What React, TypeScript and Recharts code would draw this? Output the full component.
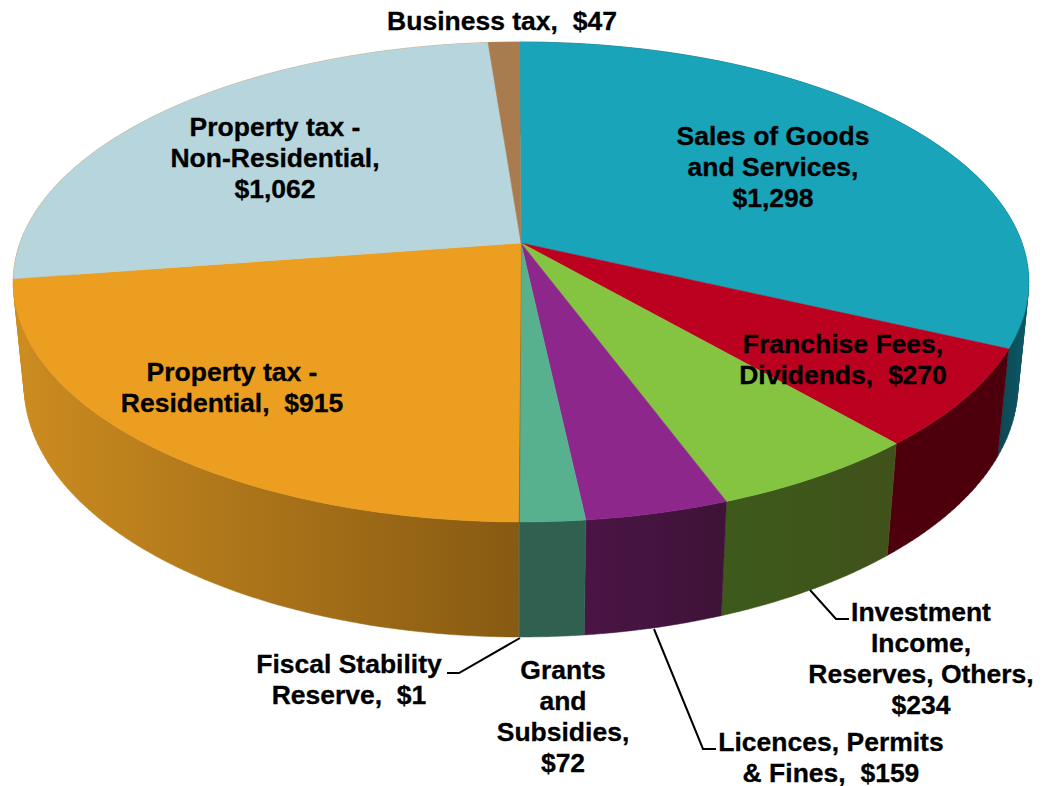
import { Pie, PieChart } from 'recharts'

const categories = [
  'Sales of Goods and Services',
  'Franchise Fees, Dividends',
  'Investment Income, Reserves, Others',
  'Licences, Permits & Fines',
  'Grants and Subsidies',
  'Fiscal Stability Reserve',
  'Property tax - Residential',
  'Property tax - Non-Residential',
  'Business tax',
]
const values = [1298, 270, 234, 159, 72, 1, 915, 1062, 47]

const topColors = ['#1aa4b9', '#bb0020', '#85c440', '#8d278c', '#58b18e', '#8a5a12', '#ec9e21', '#b6d5dc', '#a97c50']
const wallFrom = ['#0d4652', '#4d000c', '#3d5a1b', '#4a1545', '#2f6050', '#2f6050', '#cc8c20', '#cc8c20', '#cc8c20']
const wallTo = ['#0d5a68', '#4d000c', '#40521a', '#3f1238', '#2f6050', '#2f6050', '#875a12', '#cc8c20', '#cc8c20']
// x range of each wall's shading
const wallSpan = [[997, 1029], [887, 1007], [721, 893], [584, 723], [520, 585], [520, 522], [13, 521], [13, 521], [490, 521]]

const labelLines = [
  ['Sales of Goods', 'and Services,', '$1,298'],
  ['Franchise Fees,', 'Dividends,  $270'],
  ['Investment', 'Income,', 'Reserves, Others,', '$234'],
  ['Licences, Permits', '& Fines,  $159'],
  ['Grants', 'and', 'Subsidies,', '$72'],
  ['Fiscal Stability', 'Reserve,  $1'],
  ['Property tax -', 'Residential,  $915'],
  ['Property tax -', 'Non-Residential,', '$1,062'],
  ['Business tax,  $47'],
]
const labelAt = [
  [773, 145],
  [843, 353],
  [921, 621],
  [831, 751],
  [563, 679],
  [349, 673],
  [232, 381],
  [275, 136],
  [502, 30],
]
const leaders: Record<number, string> = {
  2: 'M810 590L836 619L849 619',
  3: 'M654 629L703 749L716 749',
  5: 'M520 638L459 673L447 673',
}

const WIDTH = 1051
const HEIGHT = 786
const CX = 521
const CY = 243
const RADIUS = 501

const topData = categories.map((name, i) => ({ name, value: values[i], fill: topColors[i] }))
const wallData = categories.map((name, i) => ({ name, value: values[i], fill: `url(#wall-${i})` }))

// the pie is seen in perspective, so the far half looks shorter than the near half
function topPoint(cx: number, cy: number, r: number, deg: number) {
  const a = (deg * Math.PI) / 180
  const w = 1 + 0.1625 * Math.sin(a)
  return [cx + (r * Math.cos(a)) / w, cy - (0.4663 * r * Math.sin(a)) / w]
}

function basePoint(cx: number, cy: number, r: number, deg: number) {
  const a = (deg * Math.PI) / 180
  const w = 1 + 0.159 * Math.sin(a)
  return [cx + (0.979 * r * Math.cos(a)) / w, cy + 102.7 - (0.489 * r * Math.sin(a)) / w]
}

function sweep(startAngle: number, endAngle: number) {
  const n = Math.max(1, Math.ceil(Math.abs(endAngle - startAngle)))
  return Array.from({ length: n + 1 }, (_, i) => startAngle + ((endAngle - startAngle) * i) / n)
}

function TopSlice({ cx, cy, outerRadius, startAngle, endAngle, fill }: any) {
  const arc = sweep(startAngle, endAngle).map((d) => topPoint(cx, cy, outerRadius, d))
  const d = `M${cx} ${cy}` + arc.map((p) => `L${p[0].toFixed(2)} ${p[1].toFixed(2)}`).join('') + 'Z'
  return <path d={d} fill={fill} stroke={fill} strokeWidth={0.5} />
}

// one quad per degree, all wound the same way, so the outline follows the true silhouette
function WallSlice({ cx, cy, outerRadius, startAngle, endAngle, fill }: any) {
  const angles = sweep(startAngle, endAngle)
  let d = ''
  for (let i = 0; i < angles.length - 1; i++) {
    const q = [
      topPoint(cx, cy, outerRadius, angles[i]),
      topPoint(cx, cy, outerRadius, angles[i + 1]),
      basePoint(cx, cy, outerRadius, angles[i + 1]),
      basePoint(cx, cy, outerRadius, angles[i]),
    ]
    let area = 0
    q.forEach((p, j) => {
      const next = q[(j + 1) % 4]
      area += p[0] * next[1] - next[0] * p[1]
    })
    if (area < 0) q.reverse()
    d += 'M' + q.map((p) => `${p[0].toFixed(2)} ${p[1].toFixed(2)}`).join('L') + 'Z'
  }
  return <path d={d} fill={fill} stroke={fill} strokeWidth={0.5} />
}

function SliceLabel({ index }: any) {
  const [x, y] = labelAt[index]
  return (
    <g>
      {leaders[index] && <path d={leaders[index]} fill="none" stroke="#000" strokeWidth={2} />}
      <text
        x={x}
        y={y}
        textAnchor="middle"
        fill="#000"
        stroke="#000"
        strokeWidth={0.3}
        fontFamily="Liberation Sans, Arial, sans-serif"
        fontWeight="bold"
        fontSize={26.5}
        style={{ whiteSpace: 'pre' }}
      >
        {labelLines[index].map((line, i) => (
          <tspan key={i} x={x} dy={i === 0 ? 0 : 31}>
            {line}
          </tspan>
        ))}
      </text>
    </g>
  )
}

export default function App() {
  return (
    <div style={{ position: 'absolute', left: 0, top: 0, width: WIDTH, height: HEIGHT }}>
      <PieChart width={WIDTH} height={HEIGHT} margin={{ top: 0, right: 0, bottom: 0, left: 0 }}>
        <defs>
          {categories.map((_, i) => (
            <linearGradient
              key={i}
              id={`wall-${i}`}
              gradientUnits="userSpaceOnUse"
              x1={wallSpan[i][0]}
              x2={wallSpan[i][1]}
              y1={0}
              y2={0}
            >
              <stop offset="0%" stopColor={wallFrom[i]} />
              <stop offset="100%" stopColor={wallTo[i]} />
            </linearGradient>
          ))}
        </defs>
        <Pie
          data={wallData}
          dataKey="value"
          cx={CX}
          cy={CY}
          outerRadius={RADIUS}
          startAngle={90.2}
          endAngle={-269.8}
          shape={WallSlice}
          isAnimationActive={false}
        />
        <Pie
          data={topData}
          dataKey="value"
          cx={CX}
          cy={CY}
          outerRadius={RADIUS}
          startAngle={90.2}
          endAngle={-269.8}
          shape={TopSlice}
          label={SliceLabel}
          labelLine={false}
          isAnimationActive={false}
        />
      </PieChart>
    </div>
  )
}
